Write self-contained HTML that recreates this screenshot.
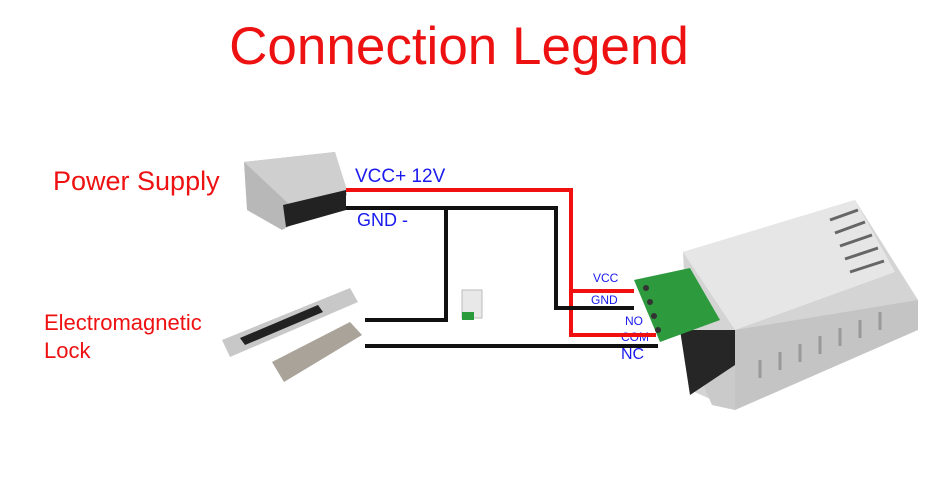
<!DOCTYPE html>
<html><head><style>
body{margin:0;width:950px;height:492px;background:#fff;overflow:hidden;position:relative;font-family:"Liberation Sans",sans-serif}
.t{position:absolute;white-space:nowrap}
</style></head><body>
<div class="t" style="left:0;width:918px;text-align:center;top:16px;font-size:53px;color:#ee1111">Connection Legend</div>
<div class="t" style="left:53px;top:166px;font-size:27px;color:#ee1111">Power Supply</div>
<div class="t" style="left:44px;top:309px;font-size:22px;color:#ee1111;line-height:28px">Electromagnetic<br>Lock</div>
<div class="t" style="left:355px;top:166px;font-size:19px;color:#1a1aee">VCC+ 12V</div>
<div class="t" style="left:357px;top:210px;font-size:18px;color:#1a1aee">GND -</div>
<div class="t" style="left:593px;top:271px;font-size:12px;color:#1a1aee">VCC</div>
<div class="t" style="left:591px;top:293px;font-size:12px;color:#1a1aee">GND</div>
<div class="t" style="left:625px;top:314px;font-size:12px;color:#1a1aee">NO</div>
<div class="t" style="left:621px;top:330px;font-size:12px;color:#1a1aee">COM</div>
<div class="t" style="left:621px;top:346px;font-size:16px;color:#1a1aee">NC</div>
<svg width="950" height="492" style="position:absolute;left:0;top:0">
<!-- power supply -->
<polygon points="244,162 335,152 347,195 282,230 247,210" fill="#b8b8b8"/>
<polygon points="244,162 335,152 347,190 290,205" fill="#cfcfcf"/>
<polygon points="283,205 346,190 346,210 286,227" fill="#222"/>
<!-- lock -->
<polygon points="222,340 350,288 358,302 230,357" fill="#c8c8c8"/>
<polygon points="240,338 318,305 323,312 245,345" fill="#222"/>
<polygon points="272,362 350,322 362,335 284,382" fill="#a9a39a"/>
<!-- small module -->
<rect x="462" y="290" width="20" height="28" fill="#e8e8e8" stroke="#bbb"/>
<rect x="462" y="312" width="12" height="8" fill="#2a9a3a"/>
<!-- wires -->
<g fill="none" stroke-width="4">
<polyline points="346,190 571,190 571,335 656,335" stroke="#f01010"/>
<polyline points="571,291 634,291" stroke="#f01010"/>
<polyline points="346,208 556,208 556,308 634,308" stroke="#111"/>
<polyline points="446,208 446,320 365,320" stroke="#111"/>
<polyline points="365,346 658,346" stroke="#111"/>
</g>
<!-- device -->
<polygon points="683,252 855,200 918,300 735,410 690,390" fill="#d4d4d4"/>
<polygon points="683,252 855,200 895,272 735,330" fill="#e6e6e6"/>
<polygon points="735,330 918,300 918,330 735,410" fill="#c4c4c4"/>
<polygon points="680,330 735,330 735,410 712,405" fill="#cacaca"/>
<polygon points="680,330 735,330 735,365 690,395" fill="#262626"/>
<polygon points="634,280 690,268 720,320 660,342" fill="#2e9a3e"/>
<g fill="#333">
<circle cx="646" cy="288" r="3"/><circle cx="650" cy="302" r="3"/><circle cx="654" cy="316" r="3"/><circle cx="658" cy="330" r="3"/>
</g>
<g stroke="#666" stroke-width="3">
<line x1="830" y1="220" x2="858" y2="210"/><line x1="835" y1="233" x2="865" y2="222"/><line x1="840" y1="246" x2="872" y2="235"/><line x1="845" y1="259" x2="878" y2="248"/><line x1="850" y1="272" x2="884" y2="261"/>
</g>
<g stroke="#999" stroke-width="3">
<line x1="760" y1="360" x2="760" y2="378"/><line x1="780" y1="352" x2="780" y2="370"/><line x1="800" y1="344" x2="800" y2="362"/><line x1="820" y1="336" x2="820" y2="354"/><line x1="840" y1="328" x2="840" y2="346"/><line x1="860" y1="320" x2="860" y2="338"/><line x1="880" y1="312" x2="880" y2="330"/>
</g>
</svg>
</body></html>
